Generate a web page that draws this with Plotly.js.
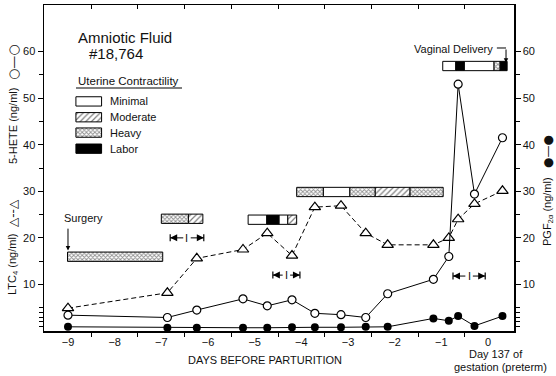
<!DOCTYPE html>
<html><head><meta charset="utf-8">
<script src="https://cdn.plot.ly/plotly-3.0.1.min.js"></script>
<style>html,body{margin:0;padding:0;background:#fff;}</style>
</head><body><div id="chart" style="width:556px;height:376px;"></div>
<script>
// ---- data ----
const days   = [-9, -6.87, -6.24, -5.25, -4.73, -4.2, -3.71, -3.15, -2.62, -2.15, -1.17, -0.84, -0.64, -0.29, 0.31];
const hete5  = [3.4, 2.9, 4.5, 6.9, 5.4, 6.7, 3.8, 3.5, 2.9, 8.0, 11.1, 16.0, 53.0, 29.4, 41.5];
const ltc4   = [4.9, 8.2, 15.6, 17.5, 21.0, 16.2, 26.6, 26.9, 21.0, 18.5, 18.5, 20.0, 24.0, 27.3, 30.1];
const pgf2a  = [0.9, 0.7, 0.7, 0.7, 0.7, 0.8, 0.8, 0.8, 0.9, 0.9, 2.7, 2.2, 3.2, 1.1, 3.2];

const xTickVals = [-9, -8, -7, -6, -5, -4, -3, -2, -1, 0];
const xHalfTicks = [-8.5, -7.5, -6.5, -5.5, -4.5, -3.5, -2.5, -1.5, -0.5];
const yTickVals = [10, 20, 30, 40, 50, 60];
const yMinorTicks = [1, 2, 3, 4, 5, 15, 25, 35, 45, 55];

// uterine contractility segments (bar level, start day, end day, level)
const segBarY  = [15.95, 24.1, 24.1, 23.9, 23.9, 23.9, 23.9, 29.85, 29.85, 29.85, 29.85, 29.85, 56.9, 56.9, 56.9, 56.9, 56.9];
const segStart = [-9.01, -7.0, -6.42, -5.14, -4.74, -4.48, -4.29, -4.10, -3.53, -2.96, -2.42, -1.67, -0.97, -0.69, -0.51, 0.13, 0.26];
const segEnd   = [-6.97, -6.42, -6.11, -4.74, -4.48, -4.29, -4.10, -3.53, -2.96, -2.42, -1.67, -0.96, -0.69, -0.51, 0.13, 0.26, 0.41];
const segLevel = ['Heavy','Heavy','Moderate','Minimal','Labor','Minimal','Moderate','Heavy','Minimal','Heavy','Moderate','Heavy','Minimal','Labor','Minimal','Heavy','Labor'];
const levels = ['Minimal', 'Moderate', 'Heavy', 'Labor'];

// interval markers |<-I->|
const intStart = [-6.81, -4.61, -0.75];
const intEnd   = [-6.09, -4.03, -0.06];
const intY     = [20.0, 12.0, 11.8];

// ---- styling ----
const FONT = 'Liberation Sans, Arial, Helvetica, sans-serif';
const SYMFONT = 'DejaVu Sans, sans-serif';
const BAR_W = 2.0;
const legendX0 = -8.83, legendX1 = -8.28;
const legendY = [49.3, 45.9, 42.6, 39.15];
const styles = {
  Minimal:  {color: 'white', pattern: {shape: ''}},
  Moderate: {color: 'white', pattern: {shape: '/', size: 4, solidity: 0.3, fgcolor: 'black', bgcolor: 'white', fillmode: 'overlay'}},
  Heavy:    {color: 'white', pattern: {shape: 'x', size: 3, solidity: 0.5, fgcolor: '#222', bgcolor: 'white', fillmode: 'overlay'}},
  Labor:    {color: 'black', pattern: {shape: ''}}
};

const traces = [];
levels.forEach((lv, li) => {
  const ys = [], xs = [], bs = [];
  segLevel.forEach((l, i) => {
    if (l === lv) { ys.push(segBarY[i]); bs.push(segStart[i]); xs.push(segEnd[i] - segStart[i]); }
  });
  // legend swatch
  ys.push(legendY[li]); bs.push(legendX0); xs.push(legendX1 - legendX0);
  traces.push({
    type: 'bar', orientation: 'h', y: ys, x: xs, base: bs, width: BAR_W,
    marker: {color: styles[lv].color, pattern: styles[lv].pattern, line: {color: 'black', width: 1}},
    showlegend: false, hoverinfo: 'skip'
  });
});

traces.push({
  type: 'scatter', mode: 'lines+markers', x: days, y: pgf2a, name: 'PGF2α',
  line: {color: 'black', width: 1},
  marker: {symbol: 'circle', size: 8, color: 'black'}, showlegend: false
});
traces.push({
  type: 'scatter', mode: 'lines+markers', x: days, y: ltc4, name: 'LTC4',
  line: {color: 'black', width: 1, dash: '5px,3px'},
  marker: {symbol: 'triangle-up', size: 10, color: 'white', line: {color: 'black', width: 1.2}}, showlegend: false
});
traces.push({
  type: 'scatter', mode: 'lines+markers', x: days, y: hete5, name: '5-HETE',
  line: {color: 'black', width: 1},
  marker: {symbol: 'circle', size: 8, color: 'white', line: {color: 'black', width: 1.2}}, showlegend: false
});
// helper trace for top/right axes
traces.push({type: 'scatter', x: [null], y: [null], xaxis: 'x2', yaxis: 'y2', showlegend: false, hoverinfo: 'skip'});

const XR = [-9.514, 0.557], YR = [0, 70];
const L = 44, R = 514, T = 5, B = 331;
const px = x => (x - L) / (R - L);
const py = y => 1 - (y - T) / (B - T);

const ann = [];
function txt(text, x, y, size, opts) {
  ann.push(Object.assign({text: text, xref: 'paper', yref: 'paper', x: px(x), y: py(y),
    showarrow: false, font: {family: FONT, size: size, color: '#111'}, xanchor: 'left', yanchor: 'middle'}, opts || {}));
}
txt('Amniotic Fluid', 76, 37.5, 15);
txt('#18,764', 87, 53, 15);
txt('Uterine Contractility', 76, 81, 11.5);
txt('Minimal', 108, 101, 11);
txt('Moderate', 108, 117, 11);
txt('Heavy', 108, 133, 11);
txt('Labor', 108, 149, 11);
txt('Vaginal Delivery', 495, 49, 11, {xanchor: 'right'});
txt('Surgery', 83, 218, 11, {xanchor: 'center'});
txt('DAYS BEFORE PARTURITION', 265, 360, 11, {xanchor: 'center'});
txt('Day 137 of', 496, 354, 11, {xanchor: 'center'});
txt('gestation (preterm)', 500, 367, 11, {xanchor: 'center'});
txt('5-HETE (ng/ml)', 13, 126, 11, {xanchor: 'center', textangle: -90});
txt('○—○', 13, 62, 13, {xanchor: 'center', textangle: -90, font: {family: SYMFONT, size: 13, color: '#111'}});
txt('LTC<sub>4</sub> (ng/ml)', 13, 264, 11, {xanchor: 'center', textangle: -90});
txt('△--△', 13, 213, 12, {xanchor: 'center', textangle: -90, font: {family: SYMFONT, size: 12, color: '#111'}});
txt('PGF<sub>2α</sub> (ng/ml)', 548, 212, 11, {xanchor: 'center', textangle: -90});
txt('●—●', 548, 152, 12, {xanchor: 'center', textangle: -90, font: {family: SYMFONT, size: 12, color: '#111'}});

// arrows
function arrow(x, y, ax, ay, size) {
  ann.push({text: '', x: x, y: y, ax: ax, ay: ay, xref: 'x', yref: 'y', axref: 'x', ayref: 'y',
    showarrow: true, arrowhead: 2, arrowsize: size || 0.9, arrowwidth: 1, arrowcolor: 'black', standoff: 0});
}
arrow(-9.0, 17.3, -9.0, 22.3);            // Surgery
arrow(0.386, 57.6, 0.386, 60.77);         // Vaginal delivery

const shapes = [
  {type: 'line', xref: 'paper', yref: 'paper', x0: px(76), x1: px(182), y0: py(88), y1: py(88), line: {color: 'black', width: 1.2}},
  {type: 'line', xref: 'x', yref: 'y', x0: 0.19, x1: 0.386, y0: 60.77, y1: 60.77, line: {color: 'black', width: 1}}
];

intStart.forEach((s, i) => {
  const e = intEnd[i], v = intY[i], c = (s + e) / 2;
  shapes.push({type: 'line', xref: 'x', yref: 'y', x0: s, x1: s, y0: v - 0.75, y1: v + 0.75, line: {color: 'black', width: 1.2}});
  shapes.push({type: 'line', xref: 'x', yref: 'y', x0: e, x1: e, y0: v - 0.75, y1: v + 0.75, line: {color: 'black', width: 1.2}});
  shapes.push({type: 'line', xref: 'x', yref: 'y', x0: s, x1: c - 0.08, y0: v, y1: v, line: {color: 'black', width: 1}});
  shapes.push({type: 'line', xref: 'x', yref: 'y', x0: c + 0.08, x1: e, y0: v, y1: v, line: {color: 'black', width: 1}});
  ann.push({text: 'I', x: c, y: v, xref: 'x', yref: 'y', showarrow: false, font: {family: FONT, size: 11, color: '#111'}});
  arrow(s, v, s + 0.12, v, 1.4);
  arrow(e, v, e - 0.12, v, 1.4);
});

const axBase = {showgrid: false, zeroline: false, showline: true, linecolor: 'black', linewidth: 1.5,
  tickcolor: 'black', tickfont: {family: FONT, size: 11, color: '#111'}};

const layout = {
  width: 556, height: 376,
  margin: {l: L, r: 556 - R, t: T, b: 376 - B},
  paper_bgcolor: 'white', plot_bgcolor: 'white',
  barmode: 'overlay', showlegend: false,
  font: {family: FONT, color: '#111'},
  xaxis: Object.assign({}, axBase, {range: XR, tickmode: 'array', tickvals: xTickVals, ticks: '',
    minor: {tickmode: 'array', tickvals: xHalfTicks, ticks: 'outside', ticklen: 4, tickcolor: 'black', tickwidth: 1}}),
  xaxis2: Object.assign({}, axBase, {range: XR, overlaying: 'x', side: 'top', anchor: 'y2', tickmode: 'array',
    tickvals: xHalfTicks, ticks: 'inside', ticklen: 4, showticklabels: false}),
  yaxis: Object.assign({}, axBase, {range: YR, tickmode: 'array', tickvals: yTickVals, ticks: 'outside', ticklen: 5,
    minor: {tickmode: 'array', tickvals: yMinorTicks, ticks: 'outside', ticklen: 4, tickcolor: 'black', tickwidth: 1}}),
  yaxis2: Object.assign({}, axBase, {range: YR, overlaying: 'y', side: 'right', anchor: 'x2', tickmode: 'array',
    tickvals: yTickVals, ticks: 'outside', ticklen: 5,
    minor: {tickmode: 'array', tickvals: yMinorTicks, ticks: 'outside', ticklen: 4, tickcolor: 'black', tickwidth: 1}}),
  annotations: ann,
  shapes: shapes
};

Plotly.newPlot('chart', traces, layout, {staticPlot: true, displayModeBar: false});
</script>
</body></html>
